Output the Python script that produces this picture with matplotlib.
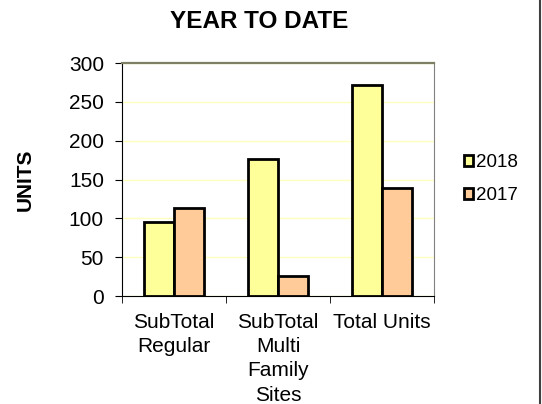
import matplotlib.pyplot as plt
import numpy as np

plt.rcParams['font.family'] = ['Liberation Sans', 'DejaVu Sans']

categories = ['SubTotal\nRegular', 'SubTotal\nMulti\nFamily\nSites', 'Total Units']
series_names = ['2018', '2017']
values_2018 = [95, 177, 272]
values_2017 = [114, 26, 139]
colors = ['#FFFF99', '#FFCC99']

fig = plt.figure(figsize=(5.42, 4.04), dpi=100)
ax = fig.add_axes([0.225, 0.267, 0.576, 0.577])

x = np.arange(len(categories))
w = 0.29
ax.bar(x - w / 2, values_2018, w, color=colors[0], edgecolor='black', linewidth=2, label=series_names[0], zorder=3)
ax.bar(x + w / 2, values_2017, w, color=colors[1], edgecolor='black', linewidth=2, label=series_names[1], zorder=3)

ax.set_xlim(-0.5, len(categories) - 0.5)
ax.set_ylim(0, 300)
ax.set_yticks(range(0, 301, 50))
ax.yaxis.grid(True, color='#FFFFC0', linewidth=1, zorder=0)

ax.set_xticks(x)
ax.set_xticklabels(categories, fontsize=15, linespacing=1.35)
ax.tick_params(axis='x', length=0, pad=12)
ax.set_xticks(np.arange(len(categories) + 1) - 0.5, minor=True)
ax.tick_params(axis='x', which='minor', length=5, direction='out')
ax.tick_params(axis='y', labelsize=15, length=5, pad=8, direction='out')

ax.spines['top'].set_color('#7F7F66')
ax.spines['top'].set_linewidth(1.6)
ax.spines['right'].set_color('#808080')
ax.spines['left'].set_color('black')
ax.spines['bottom'].set_color('black')

fig.text(25.5 / 542, 1 - 180 / 404, 'UNITS', rotation=90, ha='center', va='center',
         fontsize=15, fontweight='bold')
fig.text(259 / 542, 1 - 21 / 404, 'YEAR TO DATE', ha='center', va='center',
         fontsize=17.5, fontweight='bold')

fig.legend(loc='center left', bbox_to_anchor=(464 / 542, 1 - 179 / 404), frameon=False,
           fontsize=13.5, handlelength=0.5, handleheight=0.5, handletextpad=0.12,
           labelspacing=0.85, borderpad=0, borderaxespad=0)

fig.add_artist(plt.Line2D([0.997, 0.997], [0, 1], color='#404040', linewidth=1.5,
                          transform=fig.transFigure))

plt.savefig('out.png', dpi=100)
